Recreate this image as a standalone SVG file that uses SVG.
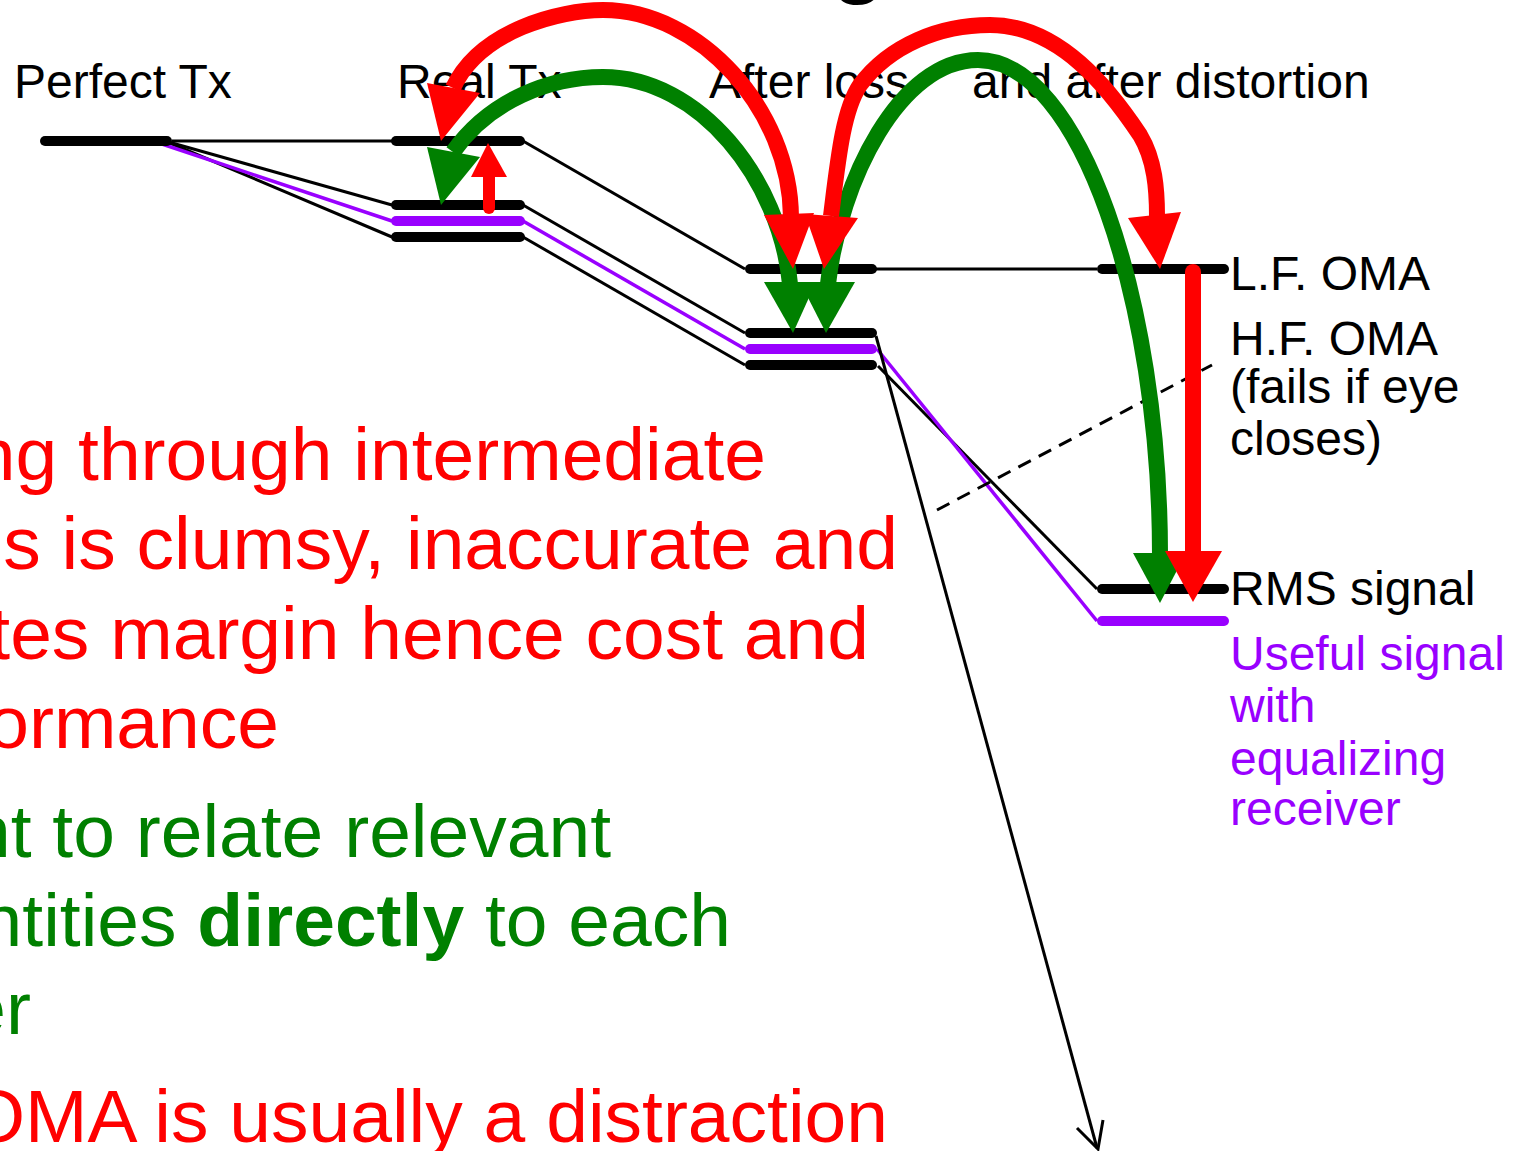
<svg xmlns="http://www.w3.org/2000/svg" width="1515" height="1151" viewBox="0 0 1515 1151">
<style>
text{font-family:"Liberation Sans",Arial,sans-serif}
.lbl{font-size:48px;fill:#000}
.big{font-size:75px}
.red{fill:#ff0000}
.grn{fill:#008000}
.pur{fill:#9900ff}
.bar{stroke:#000;stroke-width:10;stroke-linecap:round;fill:none}
.pbar{stroke:#9900ff;stroke-width:10;stroke-linecap:round;fill:none}
.thin{stroke:#000;stroke-width:3;fill:none}
.pthin{stroke:#9900ff;stroke-width:3.5;fill:none}
.rarc{stroke:#ff0000;stroke-width:16;fill:none}
.garc{stroke:#008000;stroke-width:16;fill:none}
.rhead{fill:#ff0000}
.ghead{fill:#008000}
</style>
<rect width="1515" height="1151" fill="#fff"/>
<g id="title"><text x="831" y="-14" style="font-size:90px;font-weight:bold">g</text></g>
<g id="column-labels">
<text x="14" y="98" class="lbl">Perfect Tx</text>
<text x="397" y="98" class="lbl">Real Tx</text>
<text x="709" y="98" class="lbl">After loss</text>
<text x="972" y="98" class="lbl">and after distortion</text>
</g>
<g id="right-labels">
<text x="1230" y="290" class="lbl">L.F. OMA</text>
<text x="1230" y="355" class="lbl">H.F. OMA</text>
<text x="1230" y="403" class="lbl">(fails if eye</text>
<text x="1230" y="455" class="lbl">closes)</text>
<text x="1230" y="605" class="lbl">RMS signal</text>
<text x="1230" y="670" class="lbl pur">Useful signal</text>
<text x="1230" y="722" class="lbl pur">with</text>
<text x="1230" y="775" class="lbl pur">equalizing</text>
<text x="1230" y="825" class="lbl pur">receiver</text>
</g>
<g id="bullets" text-anchor="end">
<text x="766" y="480" class="big red">ng through intermediate</text>
<text x="898" y="569" class="big red">s is clumsy, inaccurate and</text>
<text x="869" y="659" class="big red">tes margin hence cost and</text>
<text x="279" y="748" class="big red">ormance</text>
<text x="611" y="857" class="big grn">nt to relate relevant</text>
<text x="731" y="946" class="big grn">ntities <tspan font-weight="bold">directly</tspan> to each</text>
<text x="31" y="1034" class="big grn">er</text>
<text x="888" y="1142" class="big red">OMA is usually a distraction</text>
</g>
<g id="connectors">
<line class="thin" x1="172" y1="141" x2="392" y2="141"/>
<line class="thin" x1="165" y1="141" x2="392" y2="205"/>
<line class="thin" x1="165" y1="141" x2="392" y2="237"/>
<line class="pthin" x1="153" y1="141" x2="392" y2="221"/>
<line class="thin" x1="523" y1="141" x2="745" y2="269"/>
<line class="thin" x1="523" y1="205" x2="745" y2="333"/>
<line class="thin" x1="523" y1="237" x2="745" y2="365"/>
<line class="pthin" x1="523" y1="221" x2="745" y2="349"/>
<line class="thin" x1="876" y1="269" x2="1097" y2="269"/>
<line class="thin" x1="878" y1="366" x2="1097" y2="589"/>
<line class="pthin" x1="877" y1="349" x2="1097" y2="621"/>
<line class="thin" x1="876" y1="336" x2="1097" y2="1148"/>
<polyline class="thin" points="1077,1128 1098,1149 1103,1120"/>
<line x1="937" y1="510" x2="1212" y2="365" stroke="#000" stroke-width="3" stroke-dasharray="14,9"/>
</g>
<g id="perfect-tx"><line class="bar" x1="45" y1="141" x2="167" y2="141"/></g>
<g id="real-tx">
<line class="bar" x1="396" y1="141" x2="520" y2="141"/>
<line class="bar" x1="396" y1="205" x2="520" y2="205"/>
<line class="pbar" x1="396" y1="221" x2="520" y2="221"/>
<line class="bar" x1="396" y1="237" x2="520" y2="237"/>
</g>
<g id="after-loss">
<line class="bar" x1="750" y1="269" x2="872" y2="269"/>
<line class="bar" x1="750" y1="333" x2="872" y2="333"/>
<line class="pbar" x1="750" y1="349" x2="872" y2="349"/>
<line class="bar" x1="750" y1="365" x2="872" y2="365"/>
</g>
<g id="after-distortion">
<line class="bar" x1="1102" y1="269" x2="1224" y2="269"/>
<line class="bar" x1="1102" y1="589" x2="1224" y2="589"/>
<line class="pbar" x1="1102" y1="621" x2="1224" y2="621"/>
</g>
<g id="arrows">
<path class="garc" d="M453,152 C490,100 550,77 603,77 C700,77 780,180 790,284"/>
<polygon class="ghead" points="441,205 427,147 480,157"/>
<polygon class="ghead" points="793,333 764,282 816,282"/>
<path class="garc" d="M828,284 C840,180 900,60 978,60 C1080,60 1160,300 1160,555"/>
<polygon class="ghead" points="826,333 800,282 855,282"/>
<polygon class="ghead" points="1160,603 1133,553 1186,553"/>
<path class="rarc" d="M453,88 C480,30 560,10 603,10 C700,10 790,110 791,217"/>
<polygon class="rhead" points="441,141 427,83 480,93"/>
<polygon class="rhead" points="793,269 764,215 814,213"/>
<path class="rarc" d="M831,216 C838,160 843,110 860,85 C890,45 940,25 990,25 C1060,25 1110,90 1140,135 C1155,160 1157,190 1157,216"/>
<polygon class="rhead" points="824,269 805,214 858,218"/>
<polygon class="rhead" points="1160,269 1128,218 1181,212"/>
<line x1="1193" y1="272" x2="1193" y2="555" stroke="#ff0000" stroke-width="16" stroke-linecap="round"/>
<polygon class="rhead" points="1193,602 1165,551 1222,551"/>
<line x1="489" y1="208" x2="489" y2="175" stroke="#ff0000" stroke-width="12" stroke-linecap="round"/>
<polygon class="rhead" points="488,143 471,177 507,177"/>
</g>
</svg>
